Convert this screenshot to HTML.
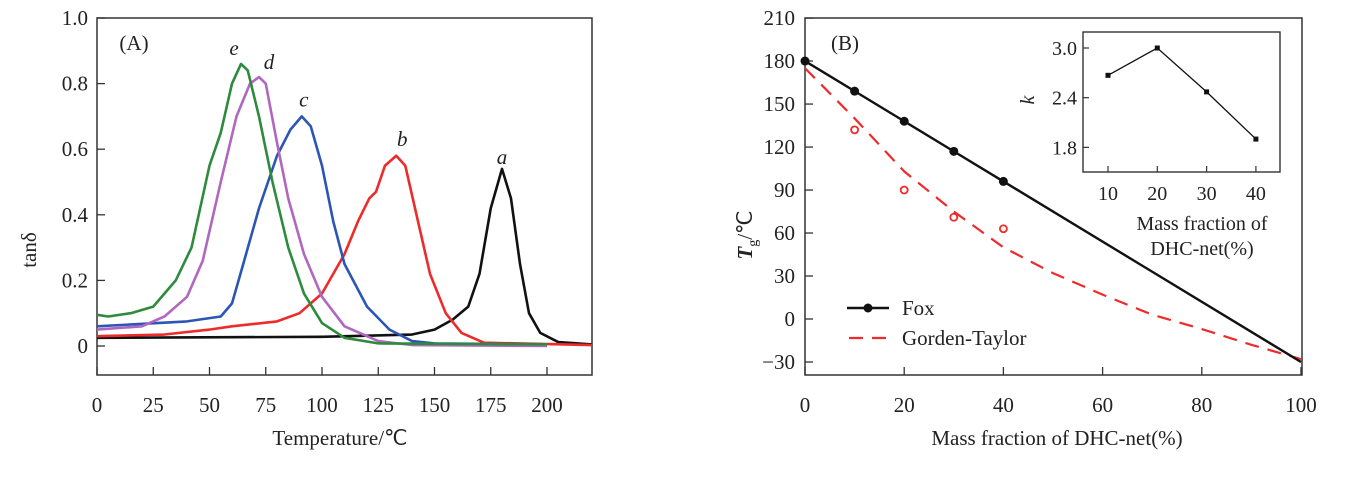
<!DOCTYPE html>
<html><head><meta charset="utf-8"><style>
body{margin:0;background:#fff;}
svg text{font-family:"Liberation Serif",serif;fill:#222;}
</style></head><body>
<svg id="chart" width="1358" height="472" xmlns="http://www.w3.org/2000/svg"></svg>
<script>
// ---- Panel A data ----
const aTicksX=[0,25,50,75,100,125,150,175,200];
const aTicksY=[0,0.2,0.4,0.6,0.8,1.0];
const aTickLabelsY=["0","0.2","0.4","0.6","0.8","1.0"];
const curveA=[[0,0.025],[100,0.028],[140,0.035],[150,0.05],[158,0.08],[165,0.12],[170,0.22],[175,0.42],[180,0.54],[184,0.45],[188,0.25],[192,0.1],[197,0.04],[205,0.012],[220,0.005]];
const curveB=[[0,0.03],[30,0.035],[50,0.05],[60,0.06],[80,0.075],[90,0.1],[100,0.16],[110,0.28],[116,0.38],[121,0.45],[124,0.47],[128,0.55],[133,0.58],[137,0.55],[142,0.4],[148,0.22],[155,0.1],[162,0.04],[172,0.01],[220,0.003]];
const curveC=[[0,0.06],[40,0.075],[55,0.09],[60,0.13],[65,0.25],[72,0.42],[80,0.58],[86,0.66],[91,0.70],[95,0.67],[100,0.55],[105,0.38],[110,0.25],[120,0.12],[130,0.05],[140,0.015],[150,0.008],[200,0.005]];
const curveD=[[0,0.05],[20,0.06],[30,0.09],[40,0.15],[47,0.26],[55,0.5],[62,0.7],[68,0.8],[72,0.82],[75,0.8],[80,0.62],[85,0.45],[92,0.28],[100,0.15],[110,0.06],[125,0.015],[140,0.003],[200,0.0]];
const curveE=[[0,0.095],[5,0.09],[15,0.1],[25,0.12],[35,0.2],[42,0.3],[50,0.55],[55,0.65],[60,0.8],[64,0.86],[67,0.84],[72,0.7],[78,0.5],[85,0.3],[92,0.16],[100,0.07],[110,0.025],[125,0.008],[200,0.005]];
// ---- Panel B data ----
const bTicksX=[0,20,40,60,80,100];
const bTicksY=[-30,0,30,60,90,120,150,180,210];
const foxX=[0,10,20,30,40];
const foxY=[180,159,138,117,96];
const foxEnd=[100,-30];
const gtX=[0,10,20,30,40,50,60,70,80,90,100];
const gtY=[175,140,103,75,50,32,17,3,-7,-18,-28];
const expX=[10,20,30,40];
const expY=[132,90,71,63];
// ---- Inset data ----
const kX=[10,20,30,40];
const kY=[2.67,3.0,2.47,1.9];
const kTicksY=[1.8,2.4,3.0];
const kTicksX=[10,20,30,40];

const svg=document.getElementById('chart');
const NS='http://www.w3.org/2000/svg';
function el(tag,attrs,parent){const e=document.createElementNS(NS,tag);for(const k in attrs)e.setAttribute(k,attrs[k]);(parent||svg).appendChild(e);return e;}
function txt(s,x,y,size,anchor,parent,extra){const t=el('text',Object.assign({x:x,y:y,'font-size':size,'text-anchor':anchor||'middle'},extra||{}),parent);t.textContent=s;return t;}

// Panel A scales
const AX=v=>97+v*2.25, AY=v=>346-v*328;
const gA=el('g',{});


const fr=el('rect',{x:97,y:18,width:495,height:357,fill:'none',stroke:'#333','stroke-width':1.5},gA);


aTicksX.forEach(v=>{el('line',{x1:AX(v),x2:AX(v),y1:375,y2:367,stroke:'#333','stroke-width':1.3},gA);
 const t=txt(String(v),AX(v),412,21,'middle',gA);});
aTicksY.forEach((v,i)=>{el('line',{x1:97,x2:105,y1:AY(v),y2:AY(v),stroke:'#333','stroke-width':1.3},gA);
 const t=txt(aTickLabelsY[i],88,AY(v)+7,21,'end',gA);});
let t=txt('Temperature/℃',340,445,21,'middle',gA);
t=txt('tanδ',0,0,21,'middle',gA,{transform:'translate(36,250) rotate(-90)'});
t=txt('(A)',134,50,21,'middle',gA);
const curves=[[curveA,'#111','a',[0,5]],[curveB,'#ee2b2b','b',[6,10]],[curveC,'#2b56b5','c',[2,10]],[curveD,'#b067c0','d',[10,8]],[curveE,'#2e8b3e','e',[-7,9]]];
curves.forEach(([c,col,n,off])=>{const p=el('polyline',{points:c.map(d=>AX(d[0])+','+AY(d[1])).join(' '),fill:'none',stroke:col,'stroke-width':2.6,'stroke-linejoin':'round'},gA);
 
 let pk=c.reduce((m,d)=>d[1]>m[1]?d:m,c[0]);
 const l=txt(n,AX(pk[0])+off[0],AY(pk[1])-off[1],21,'middle',gA,{'font-style':'italic'});
 });

// Panel B scales
const BX=v=>805+v*4.96, BY=v=>319-v*1.433;
const gB=el('g',{});


const fb=el('rect',{x:805,y:18,width:497,height:357,fill:'none',stroke:'#333','stroke-width':1.5},gB);


bTicksX.forEach(v=>{el('line',{x1:BX(v),x2:BX(v),y1:375,y2:367,stroke:'#333','stroke-width':1.3},gB);
 const t=txt(String(v),BX(v),412,21,'middle',gB);});
bTicksY.forEach(v=>{el('line',{x1:805,x2:813,y1:BY(v),y2:BY(v),stroke:'#333','stroke-width':1.3},gB);
 const t=txt(v<0?'−'+(-v):String(v),795,BY(v)+7,21,'end',gB);});
t=txt('Mass fraction of DHC-net(%)',1057,445,21,'middle',gB);
t=el('text',{'font-size':21,'text-anchor':'middle',transform:'translate(752,235) rotate(-90)'},gB);
t.innerHTML='<tspan font-style="italic" font-weight="bold">T</tspan><tspan font-size="14" dy="5">g</tspan><tspan dy="-5">/℃</tspan>';

t=txt('(B)',845,50,21,'middle',gB);
const gt=el('polyline',{points:gtX.map((x,i)=>BX(x)+','+BY(gtY[i])).join(' '),fill:'none',stroke:'#ee2b2b','stroke-width':2.2,'stroke-dasharray':'14,9'},gB);

const fx=foxX.concat([foxEnd[0]]), fy=foxY.concat([foxEnd[1]]);
const fl=el('polyline',{points:fx.map((x,i)=>BX(x)+','+BY(fy[i])).join(' '),fill:'none',stroke:'#111','stroke-width':2.4},gB);

foxX.forEach((x,i)=>{const c=el('circle',{cx:BX(x),cy:BY(foxY[i]),r:4.5,fill:'#111'},gB);});
expX.forEach((x,i)=>{const c=el('circle',{cx:BX(x),cy:BY(expY[i]),r:3.5,fill:'none',stroke:'#ee2b2b','stroke-width':1.8},gB);});
// legend
const lg=el('g',{},gB);
el('line',{x1:847,x2:889,y1:308,y2:308,stroke:'#111','stroke-width':2.4},lg);
el('circle',{cx:868,cy:308,r:4.5,fill:'#111'},lg);
let le=txt('Fox',902,315,21,'start',lg);
el('line',{x1:849,x2:890,y1:338,y2:338,stroke:'#ee2b2b','stroke-width':2.2,'stroke-dasharray':'14,9'},lg);
le=txt('Gorden-Taylor',902,345,21,'start',lg);

// Inset
const IX=v=>1108+(v-10)*4.93, IY=v=>48+(3.0-v)*82.8;
const gI=el('g',{});
el('rect',{x:1083,y:32,width:197,height:140,fill:'#fff',stroke:'#333','stroke-width':1.4},gI);
kTicksX.forEach(v=>{el('line',{x1:IX(v),x2:IX(v),y1:172,y2:166,stroke:'#333','stroke-width':1.2},gI);
 const t=txt(String(v),IX(v),200,20,'middle',gI);});
kTicksY.forEach(v=>{el('line',{x1:1083,x2:1089,y1:IY(v),y2:IY(v),stroke:'#333','stroke-width':1.2},gI);
 const t=txt(v.toFixed(1),1077,IY(v)+7,20,'end',gI);});
const kl=el('polyline',{points:kX.map((x,i)=>IX(x)+','+IY(kY[i])).join(' '),fill:'none',stroke:'#111','stroke-width':1.3},gI);

kX.forEach((x,i)=>{const r=el('rect',{x:IX(x)-2.5,y:IY(kY[i])-2.5,width:5,height:5,fill:'#111'},gI);});
t=txt('k',0,0,20,'middle',gI,{'font-style':'italic',transform:'translate(1034,100) rotate(-90)'});
t=txt('Mass fraction of',1202,230,20,'middle',gI);
t=txt('DHC-net(%)',1202,255,20,'middle',gI);
</script>
</body></html>
